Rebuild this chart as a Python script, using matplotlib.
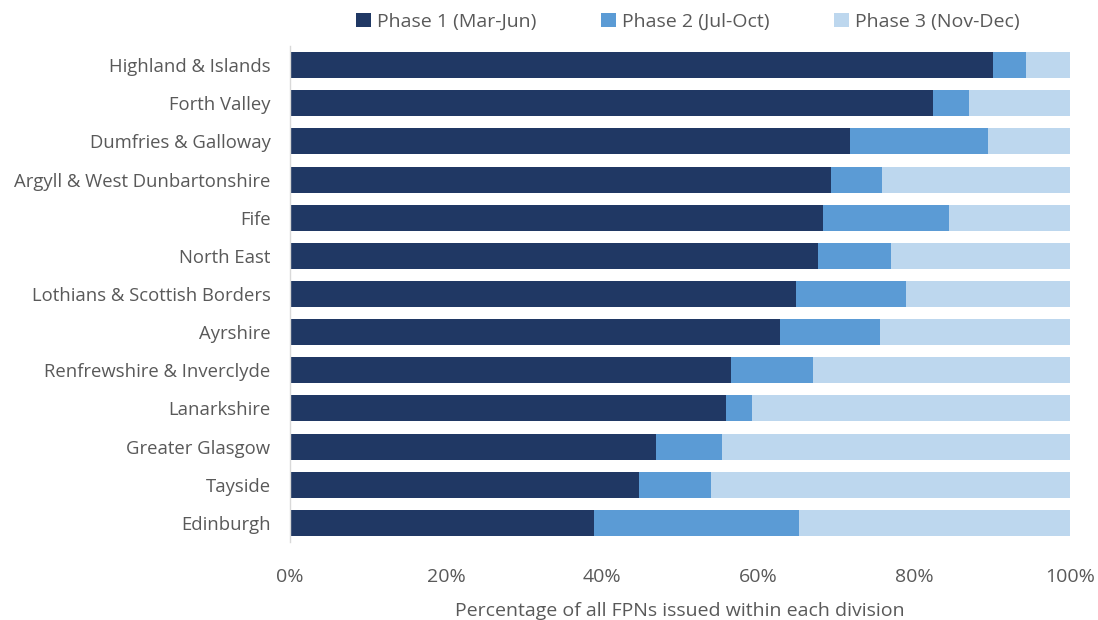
import matplotlib
matplotlib.use("Agg")
import matplotlib.pyplot as plt
from matplotlib.ticker import PercentFormatter

divisions = ["Highland & Islands", "Forth Valley", "Dumfries & Galloway",
             "Argyll & West Dunbartonshire", "Fife", "North East",
             "Lothians & Scottish Borders", "Ayrshire", "Renfrewshire & Inverclyde",
             "Lanarkshire", "Greater Glasgow", "Tayside", "Edinburgh"]
phase1 = [90.1, 82.4, 71.8, 69.4, 68.3, 67.7, 64.9, 62.8, 56.5, 55.9, 46.9, 44.7, 39.0]
phase2 = [4.3, 4.7, 17.7, 6.5, 16.2, 9.4, 14.1, 12.8, 10.6, 3.3, 8.5, 9.3, 26.3]
phase3 = [100 - a - b for a, b in zip(phase1, phase2)]
series_names = ["Phase 1 (Mar-Jun)", "Phase 2 (Jul-Oct)", "Phase 3 (Nov-Dec)"]
colors = ["#203864", "#5B9BD5", "#BDD7EE"]

plt.rcParams['font.family'] = ['Open Sans', 'DejaVu Sans']
txt = "#595959"

fig = plt.figure(figsize=(10.98, 6.2), dpi=100)
ax = fig.add_axes([290/1098, 1-542/620, 780/1098, 496/620])

y = list(range(len(divisions)))
left = [0]*len(divisions)
for vals, name, c in zip([phase1, phase2, phase3], series_names, colors):
    ax.barh(y, vals, left=left, height=0.68, color=c, label=name)
    left = [l + v for l, v in zip(left, vals)]

ax.set_ylim(len(divisions) - 0.5, -0.5)
ax.set_xlim(0, 100)
ax.set_yticks(y)
ax.set_yticklabels(divisions, fontsize=13.3, color=txt)
ax.set_xticks([0, 20, 40, 60, 80, 100])
ax.xaxis.set_major_formatter(PercentFormatter(decimals=0))
ax.tick_params(axis='x', labelsize=14, colors=txt, length=0, pad=19)
ax.tick_params(axis='y', length=0, pad=14)
for s in ["top", "right", "bottom"]:
    ax.spines[s].set_visible(False)
ax.spines["left"].set_color("#D9D9D9")
ax.spines["left"].set_linewidth(1)
ax.set_xlabel("Percentage of all FPNs issued within each division", fontsize=14, color=txt, labelpad=11)

leg = fig.legend(loc="center", bbox_to_anchor=(688/1098, 1-22/620), ncol=3, frameon=False,
                 fontsize=14, handlelength=0.75, handleheight=0.75, handletextpad=0.35, columnspacing=3.3)
for t in leg.get_texts():
    t.set_color(txt)

fig.savefig("out.png", dpi=100)
